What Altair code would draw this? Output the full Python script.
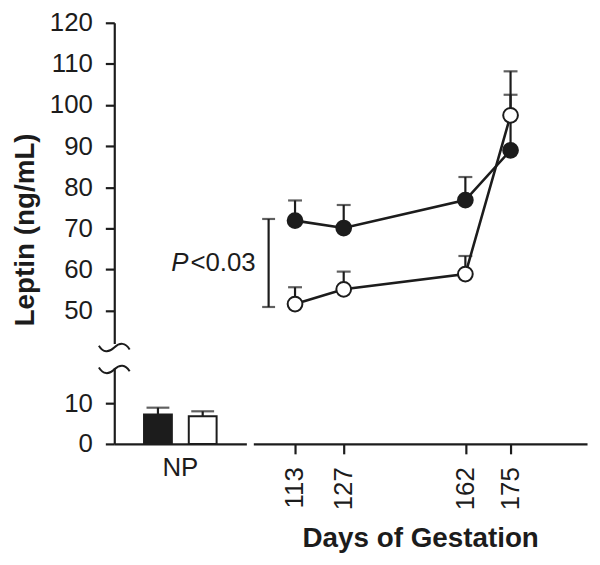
import altair as alt
import pandas as pd

INK = "#1c1c1c"
FONT = "Liberation Sans"

# ---- data ----
groups = ["Filled", "Open"]
days = [113, 127, 162, 175]
filled_mean = [71.9, 70.1, 76.9, 89.0]
filled_err_top = [76.8, 75.7, 82.5, 102.5]
open_mean = [51.6, 55.2, 58.9, 97.5]
open_err_top = [55.7, 59.5, 63.3, 108.2]

np_label = ["NP", "NP"]
np_mean = [7.3, 6.9]
np_err_top = [9.0, 8.1]

upper_ticks = [50, 60, 70, 80, 90, 100, 110, 120]
lower_ticks = [0, 10]
upper_domain = [42, 120]
lower_domain = [0, 19]
day_domain = [101, 197]

p_text_p = ["P"]
p_text_rest = ["<0.03"]
p_bracket_day = [105.4]
p_bracket_low = [50.9]
p_bracket_high = [72.3]
p_text_value = [61.6]

# axis-break squiggle drawn as a symbol shape (unit square path)
BREAK_PATH = "M -1 -0.12 C -0.72 0.34, -0.36 0.34, 0 0 C 0.36 -0.34, 0.72 -0.34, 1 0.12"

# ---- tables ----
series = pd.DataFrame({
    "day": days * 2,
    "mean": filled_mean + open_mean,
    "top": filled_err_top + open_err_top,
    "group": [groups[0]] * len(days) + [groups[1]] * len(days),
})
np_df = pd.DataFrame({"cat": np_label, "group": groups, "mean": np_mean, "top": np_err_top})
ann = pd.DataFrame({"day": p_bracket_day, "low": p_bracket_low, "high": p_bracket_high,
                    "mid": p_text_value, "p": p_text_p, "rest": p_text_rest})

fill_scale = alt.Scale(domain=groups, range=[INK, "white"])
up_scale = alt.Scale(domain=upper_domain, nice=False, zero=False)
lo_scale = alt.Scale(domain=lower_domain, nice=False, zero=False)
day_scale = alt.Scale(domain=day_domain, nice=False, zero=False)

W_LEFT, W_RIGHT, H_UP, H_LO = 133, 336, 323, 77

# ---- upper right: time series ----
xd = alt.X("day:Q", scale=day_scale, axis=None)
base = alt.Chart(series)
lines = base.mark_line(color=INK, strokeWidth=2.6).encode(
    x=xd, y=alt.Y("mean:Q", scale=up_scale, axis=None), detail="group:N")
err_rule = base.mark_rule(color=INK, strokeWidth=2.2).encode(
    x=xd, y=alt.Y("mean:Q", scale=up_scale, axis=None), y2="top:Q")
err_cap = base.mark_tick(color=INK, orient="horizontal", size=14, thickness=2.2).encode(
    x=xd, y=alt.Y("top:Q", scale=up_scale, axis=None))
points = base.mark_point(filled=True, shape="circle", size=220, stroke=INK,
                         strokeWidth=2, opacity=1).encode(
    x=xd, y=alt.Y("mean:Q", scale=up_scale, axis=None),
    fill=alt.Fill("group:N", scale=fill_scale, legend=None))

abase = alt.Chart(ann)
br_rule = abase.mark_rule(color=INK, strokeWidth=2.2).encode(
    x=xd, y=alt.Y("low:Q", scale=up_scale, axis=None), y2="high:Q")
br_cap_lo = abase.mark_tick(color=INK, orient="horizontal", size=13, thickness=2.2).encode(
    x=xd, y=alt.Y("low:Q", scale=up_scale, axis=None))
br_cap_hi = abase.mark_tick(color=INK, orient="horizontal", size=13, thickness=2.2).encode(
    x=xd, y=alt.Y("high:Q", scale=up_scale, axis=None))
txt_p = abase.mark_text(align="left", baseline="middle", dx=-98, font=FONT,
                        fontSize=26, fontStyle="italic", color=INK).encode(
    x=xd, y=alt.Y("mid:Q", scale=up_scale, axis=None), text="p:N")
txt_rest = abase.mark_text(align="right", baseline="middle", dx=-13, font=FONT,
                           fontSize=26, color=INK).encode(
    x=xd, y=alt.Y("mid:Q", scale=up_scale, axis=None), text="rest:N")

UR = alt.layer(lines, err_rule, err_cap, points, br_rule, br_cap_lo, br_cap_hi,
               txt_p, txt_rest).properties(width=W_RIGHT, height=H_UP)

# ---- upper left: upper y axis ----
ul_df = pd.DataFrame({"v": upper_ticks})
ul_axis = alt.Chart(ul_df).mark_point(opacity=0).encode(
    y=alt.Y("v:Q", scale=up_scale,
            axis=alt.Axis(values=upper_ticks, title="Leptin (ng/mL)",
                          titleX=-103, titleY=208, titleAlign="center",
                          titleBaseline="top", titleAngle=270)))
ul_break = alt.Chart(pd.DataFrame({"v": [upper_domain[0]]})).mark_point(
    shape=BREAK_PATH, size=960, filled=False, stroke=INK, strokeWidth=2,
    opacity=1, yOffset=4).encode(x=alt.value(0), y=alt.Y("v:Q", scale=up_scale))
UL = alt.layer(ul_axis, ul_break).properties(width=W_LEFT, height=H_UP)

# ---- lower left: NP bars ----
x_np = alt.X("cat:N", scale=alt.Scale(paddingInner=0, paddingOuter=0.41),
             axis=alt.Axis(title=None, labelAngle=0, ticks=False, tickSize=0, labelPadding=11))
xo = alt.XOffset("group:N", scale=alt.Scale(domain=groups, paddingInner=0.378, paddingOuter=0))
nb = alt.Chart(np_df)
bars = nb.mark_bar(stroke=INK, strokeWidth=2).encode(
    x=x_np, xOffset=xo,
    y=alt.Y("mean:Q", scale=lo_scale, axis=alt.Axis(values=lower_ticks, title=None)),
    fill=alt.Fill("group:N", scale=fill_scale, legend=None))
np_rule = nb.mark_rule(color=INK, strokeWidth=2.2).encode(
    x=x_np, xOffset=xo, y=alt.Y("mean:Q", scale=lo_scale), y2="top:Q")
np_cap = nb.mark_tick(color=INK, orient="horizontal", size=23, thickness=2.2).encode(
    x=x_np, xOffset=xo, y=alt.Y("top:Q", scale=lo_scale))
ll_break = alt.Chart(pd.DataFrame({"v": [lower_domain[1]]})).mark_point(
    shape=BREAK_PATH, size=960, filled=False, stroke=INK, strokeWidth=2,
    opacity=1, yOffset=2).encode(x=alt.value(0), y=alt.Y("v:Q", scale=lo_scale))
LL = alt.layer(np_rule, np_cap, bars, ll_break).properties(width=W_LEFT, height=H_LO)

# ---- lower right: days axis ----
lr_df = pd.DataFrame({"day": days, "v": [0] * len(days)})
LR = alt.Chart(lr_df).mark_point(opacity=0).encode(
    x=alt.X("day:Q", scale=day_scale,
            axis=alt.Axis(values=days, labelAngle=-90, title="Days of Gestation",
                          tickSize=10, labelPadding=13, titlePadding=15)),
    y=alt.Y("v:Q", scale=lo_scale, axis=None)).properties(width=W_RIGHT, height=H_LO)

row1 = alt.hconcat(UL, UR, spacing=7, bounds="flush")
row2 = alt.hconcat(LL, LR, spacing=7, bounds="flush")

chart = alt.vconcat(row1, row2, spacing=6).properties(
    padding={"left": 4, "top": 0, "right": 5, "bottom": 5}
).configure_view(stroke=None).configure_axis(
    grid=False, domainColor=INK, domainWidth=2.2, tickColor=INK, tickWidth=2.2,
    tickSize=9, labelFont=FONT, labelFontSize=26, labelColor=INK, labelPadding=13,
    titleFont=FONT, titleFontSize=28, titleFontWeight="bold", titleColor=INK
)

chart.save("out.html", embed_options={"renderer": "svg", "actions": False})
